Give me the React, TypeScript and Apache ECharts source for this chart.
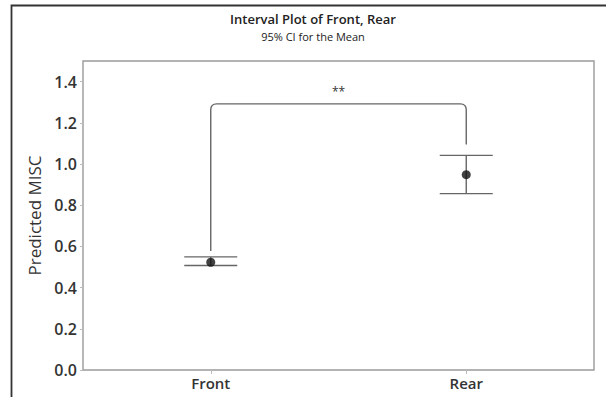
import React, { useEffect, useRef } from "react";
import * as echarts from "echarts";

const categories = ["Front", "Rear"];
const means = [0.523, 0.948];
const lowerCI = [0.507, 0.856];
const upperCI = [0.549, 1.042];
const yTicks = [0, 0.2, 0.4, 0.6, 0.8, 1.0, 1.2, 1.4];
// significance bracket: [leftCategoryIndex, yLeftBottom, rightCategoryIndex, yRightBottom, yTop]
const bracket = [0, 0.578, 1, 1.095, 1.292];
const bracketLabel = "**";

const FONT = "'Open Sans', 'Noto Sans', sans-serif";

export default function App() {
  const ref = useRef<HTMLDivElement>(null);
  useEffect(() => {
    if (!ref.current) return;
    const chart = echarts.init(ref.current, undefined, { renderer: "svg" });
    const errData = categories.map((c, i) => [i, means[i], lowerCI[i], upperCI[i]]);
    chart.setOption({
      animation: false,
      backgroundColor: "#ffffff",
      textStyle: { fontFamily: FONT },
      title: {
        text: "Interval Plot of Front, Rear",
        subtext: "95% CI for the Mean",
        left: 308,
        textAlign: "center",
        top: 6,
        itemGap: 4,
        textStyle: { fontSize: 13, fontWeight: 600, color: "#222", fontFamily: FONT, lineHeight: 15 },
        subtextStyle: { fontSize: 11, color: "#222", fontFamily: FONT, lineHeight: 12 },
      },
      graphic: [
        {
          type: "rect",
          shape: { x: 11.5, y: 5.5, width: 800, height: 600 },
          style: { fill: "none", stroke: "#333", lineWidth: 1.8 },
          silent: true,
        },
      ],
      grid: { left: 83, top: 61, right: 12, bottom: 27, show: true, borderColor: "#9a9a9a", borderWidth: 1.4 },
      xAxis: {
        type: "category",
        data: categories,
        boundaryGap: true,
        splitLine: { show: false },
        axisLine: { show: false },
        axisTick: { show: true, alignWithLabel: true, length: 4, lineStyle: { color: "#bbb" } },
        axisLabel: {
          fontSize: 15,
          fontWeight: 600,
          color: "#333",
          margin: 5,
          fontFamily: FONT,
        },
      },
      yAxis: {
        type: "value",
        min: 0,
        max: 1.5,
        name: "Predicted MISC",
        nameLocation: "middle",
        nameGap: 40,
        nameTextStyle: { fontSize: 17, color: "#333", fontFamily: FONT },
        splitLine: { show: false },
        axisLine: { show: false },
        axisTick: { show: true, customValues: yTicks, length: 3, lineStyle: { color: "#bbb" } },
        axisLabel: {
          customValues: yTicks,
          formatter: (v: number) => v.toFixed(1),
          fontSize: 16,
          fontWeight: 600,
          color: "#333",
          margin: 6,
          fontFamily: FONT,
        },
      },
      series: [
        {
          type: "custom",
          data: errData,
          renderItem: (params: any, api: any) => {
            const x = api.value(0);
            const pLo = api.coord([x, api.value(2)]);
            const pHi = api.coord([x, api.value(3)]);
            const hw = 26.5;
            const style = { stroke: "#666", lineWidth: 1.4 };
            return {
              type: "group",
              children: [
                { type: "line", shape: { x1: pHi[0] - hw, y1: pHi[1], x2: pHi[0] + hw, y2: pHi[1] }, style },
                { type: "line", shape: { x1: pLo[0] - hw, y1: pLo[1], x2: pLo[0] + hw, y2: pLo[1] }, style },
                { type: "line", shape: { x1: pHi[0], y1: pHi[1], x2: pLo[0], y2: pLo[1] }, style },
              ],
            };
          },
          z: 2,
        },
        {
          type: "scatter",
          data: categories.map((c, i) => [i, means[i]]),
          symbol: "circle",
          symbolSize: 9,
          itemStyle: { color: "#111" },
          z: 3,
        },
        {
          type: "custom",
          data: [bracket],
          renderItem: (params: any, api: any) => {
            const a = api.coord([api.value(0), api.value(1)]);
            const tl = api.coord([api.value(0), api.value(4)]);
            const b = api.coord([api.value(2), api.value(3)]);
            const tr = api.coord([api.value(2), api.value(4)]);
            const r = 6;
            const d =
              `M${a[0]},${a[1]} L${tl[0]},${tl[1] + r} Q${tl[0]},${tl[1]} ${tl[0] + r},${tl[1]} ` +
              `L${tr[0] - r},${tr[1]} Q${tr[0]},${tr[1]} ${tr[0]},${tr[1] + r} L${b[0]},${b[1]}`;
            return {
              type: "group",
              children: [
                { type: "path", shape: { pathData: d }, style: { fill: "none", stroke: "#666", lineWidth: 1.4 } },
                {
                  type: "text",
                  x: (tl[0] + tr[0]) / 2,
                  y: tl[1] - 12,
                  style: { text: bracketLabel, fontSize: 12, fill: "#333", align: "center", verticalAlign: "middle", fontFamily: FONT },
                },
              ],
            };
          },
          z: 1,
        },
      ],
    });
    return () => chart.dispose();
  }, []);
  return <div ref={ref} style={{ position: "fixed", left: 0, top: 0, width: 606, height: 397 }} />;
}
